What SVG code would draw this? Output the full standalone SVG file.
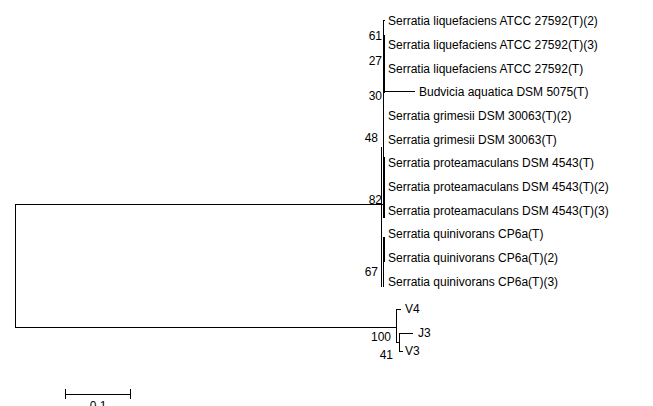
<svg xmlns="http://www.w3.org/2000/svg" width="653" height="406" viewBox="0 0 653 406">
<style>
.b{stroke:#000;stroke-width:1;fill:none;shape-rendering:crispEdges}
.t{font-family:"Liberation Sans",Arial,sans-serif;font-size:12px;fill:#000}
.n{font-family:"Liberation Sans",Arial,sans-serif;font-size:12px;fill:#000;text-anchor:end}
</style>
<rect width="653" height="406" fill="#fff"/>
<g id="connectors">
<path class="b" d="M15.5,204.5H383.5M15.5,204V327.5M15.5,327.5H396.5"/>
<path class="b" d="M383.5,20V218M384.5,35V93M381.5,147V287M384.5,157V218M383.5,237V287M384.5,237V262"/>
<path class="b" d="M383.5,20.5H385M383.5,91.5H415"/>
<path class="b" d="M396.5,309V342.5M396.5,309.5H401M396.5,342.5H399.5M399.5,333V351.5M399.5,333.5H413M399.5,351.5H403"/>
<path class="b" d="M65.5,389V399M130.5,389V399M65.5,394.5H130.5"/>
</g>
<g id="n1"><text class="t" x="388" y="25">Serratia liquefaciens ATCC 27592(T)(2)</text></g>
<g id="n2"><text class="t" x="388" y="49">Serratia liquefaciens ATCC 27592(T)(3)</text></g>
<g id="n3"><text class="t" x="388" y="73">Serratia liquefaciens ATCC 27592(T)</text></g>
<g id="n4"><text class="t" x="419" y="96">Budvicia aquatica DSM 5075(T)</text></g>
<g id="n5"><text class="t" x="388" y="120">Serratia grimesii DSM 30063(T)(2)</text></g>
<g id="n6"><text class="t" x="388" y="144">Serratia grimesii DSM 30063(T)</text></g>
<g id="n7"><text class="t" x="388" y="167">Serratia proteamaculans DSM 4543(T)</text></g>
<g id="n8"><text class="t" x="388" y="191">Serratia proteamaculans DSM 4543(T)(2)</text></g>
<g id="n9"><text class="t" x="388" y="215">Serratia proteamaculans DSM 4543(T)(3)</text></g>
<g id="n10"><text class="t" x="388" y="238">Serratia quinivorans CP6a(T)</text></g>
<g id="n11"><text class="t" x="388" y="262">Serratia quinivorans CP6a(T)(2)</text></g>
<g id="n12"><text class="t" x="388" y="286">Serratia quinivorans CP6a(T)(3)</text></g>
<g id="n13"><text class="t" x="405" y="313">V4</text></g>
<g id="n14"><text class="t" x="418" y="337">J3</text></g>
<g id="n15"><text class="t" x="405" y="355">V3</text></g>
<g id="bootstrap">
<text class="n" x="382" y="40">61</text>
<text class="n" x="382" y="65">27</text>
<text class="n" x="382" y="100">30</text>
<text class="n" x="378" y="142">48</text>
<text class="n" x="382" y="204">82</text>
<text class="n" x="378" y="276">67</text>
<text class="n" x="391" y="341">100</text>
<text class="n" x="393" y="359">41</text>
</g>
<g id="scale"><text class="t" x="98" y="410" text-anchor="middle">0.1</text></g>
</svg>
